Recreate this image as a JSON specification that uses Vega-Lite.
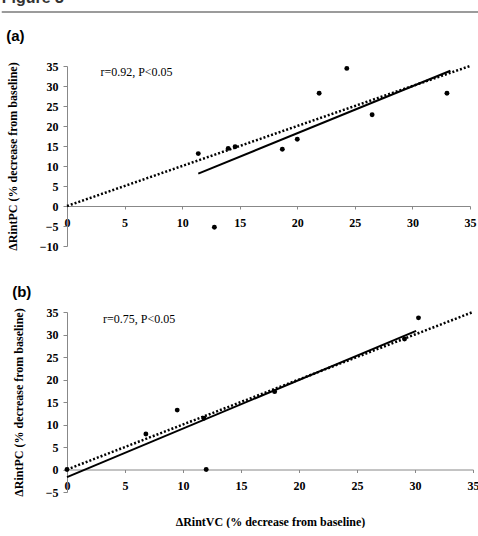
{
  "$schema": "https://vega.github.io/schema/vega-lite/v6.json",
  "background": "white",
  "padding": {"left": 0, "top": -10, "right": 0, "bottom": 0},
  "datasets": {
    "points": [
      {"panel": "a", "x": 11.4, "y": 13.1},
      {"panel": "a", "x": 12.8, "y": -5.3},
      {"panel": "a", "x": 14.0, "y": 14.4},
      {"panel": "a", "x": 14.6, "y": 14.8},
      {"panel": "a", "x": 18.7, "y": 14.2},
      {"panel": "a", "x": 20.0, "y": 16.7},
      {"panel": "a", "x": 21.9, "y": 28.2},
      {"panel": "a", "x": 24.3, "y": 34.4},
      {"panel": "a", "x": 26.5, "y": 22.8},
      {"panel": "a", "x": 33.0, "y": 28.2},
      {"panel": "b", "x": 0.0, "y": 0.0},
      {"panel": "b", "x": 6.8, "y": 7.9},
      {"panel": "b", "x": 9.5, "y": 13.2},
      {"panel": "b", "x": 11.8, "y": 11.4},
      {"panel": "b", "x": 12.0, "y": 0.0},
      {"panel": "b", "x": 17.9, "y": 17.3},
      {"panel": "b", "x": 29.1, "y": 29.0},
      {"panel": "b", "x": 30.3, "y": 33.7}
    ],
    "lines": [
      {"panel": "a", "kind": "identity", "x": 0, "y": 0},
      {"panel": "a", "kind": "identity", "x": 35, "y": 35},
      {"panel": "a", "kind": "fit", "x": 11.4, "y": 8.1},
      {"panel": "a", "kind": "fit", "x": 33.3, "y": 33.8},
      {"panel": "b", "kind": "identity", "x": 0, "y": 0},
      {"panel": "b", "kind": "identity", "x": 35, "y": 35},
      {"panel": "b", "kind": "fit", "x": 0, "y": -1.7},
      {"panel": "b", "kind": "fit", "x": 30.1, "y": 30.8}
    ],
    "notes": [
      {"panel": "a", "x": 2.9, "y": 33.5, "text": "r=0.92, P<0.05"},
      {"panel": "b", "x": 3.1, "y": 33.4, "text": "r=0.75, P<0.05"}
    ]
  },
  "config": {
    "view": {"stroke": null},
    "axis": {
      "grid": false,
      "labelFont": "Liberation Serif",
      "labelFontWeight": "bold",
      "labelFontSize": 12,
      "labelColor": "black",
      "labelFlush": false,
      "titleFont": "Liberation Serif",
      "titleFontWeight": "bold",
      "titleFontSize": 12,
      "titleColor": "black",
      "domainColor": "#888888",
      "tickColor": "#888888"
    },
    "title": {
      "font": "Liberation Sans",
      "fontWeight": "bold",
      "fontSize": 15,
      "color": "black",
      "anchor": "start",
      "frame": "bounds"
    }
  },
  "spacing": 16,
  "vconcat": [
    {
      "width": 413,
      "height": 9,
      "data": {"values": [{"label": "Figure 3", "start": -0.158, "end": 1}]},
      "encoding": {
        "x": {"field": "start", "type": "quantitative", "scale": {"domain": [0, 1], "nice": false, "zero": false}, "axis": null}
      },
      "layer": [
        {
          "mark": {"type": "text", "align": "left", "baseline": "alphabetic", "font": "Liberation Sans", "fontWeight": "bold", "fontSize": 16, "color": "#333333"},
          "encoding": {
            "text": {"field": "label"},
            "y": {"datum": 1, "scale": {"domain": [0, 1]}, "axis": null}
          }
        },
        {
          "mark": {"type": "rule", "color": "#7a7a7a", "strokeWidth": 1.5},
          "encoding": {
            "x2": {"field": "end"},
            "y": {"datum": 0}
          }
        }
      ]
    },
    {
      "spacing": 33,
      "vconcat": [
        {
          "width": 403,
          "height": 180,
          "title": {"text": "(a)", "offset": 16},
          "encoding": {
            "x": {
              "field": "x", "type": "quantitative",
              "scale": {"domain": [0, 35], "nice": false},
              "axis": {"title": null, "values": [0, 5, 10, 15, 20, 25, 30, 35], "offset": -40, "tickSize": 3, "labelPadding": 8}
            },
            "y": {
              "field": "y", "type": "quantitative",
              "scale": {"domain": [-10, 35], "nice": false},
              "axis": {"title": "ΔRintPC (% decrease from baseline)", "values": [-10, -5, 0, 5, 10, 15, 20, 25, 30, 35], "tickSize": 4, "labelPadding": 5, "titlePadding": 20}
            }
          },
          "layer": [
            {
              "data": {"name": "lines"},
              "transform": [{"filter": "datum.panel === 'a' && datum.kind === 'identity'"}],
              "mark": {"type": "line", "strokeDash": [2, 2], "strokeWidth": 2.5, "color": "black"}
            },
            {
              "data": {"name": "lines"},
              "transform": [{"filter": "datum.panel === 'a' && datum.kind === 'fit'"}],
              "mark": {"type": "line", "strokeWidth": 2, "color": "black"}
            },
            {
              "data": {"name": "points"},
              "transform": [{"filter": "datum.panel === 'a'"}],
              "mark": {"type": "circle", "size": 24, "color": "black", "opacity": 1}
            },
            {
              "data": {"name": "notes"},
              "transform": [{"filter": "datum.panel === 'a'"}],
              "mark": {"type": "text", "align": "left", "baseline": "middle", "font": "Liberation Serif", "fontSize": 12, "color": "black"},
              "encoding": {"text": {"field": "text"}}
            }
          ]
        },
        {
          "width": 406,
          "height": 180,
          "title": {"text": "(b)", "offset": 6},
          "encoding": {
            "x": {
              "field": "x", "type": "quantitative",
              "scale": {"domain": [0, 35], "nice": false},
              "axis": {"title": "ΔRintVC (% decrease from baseline)", "values": [0, 5, 10, 15, 20, 25, 30, 35], "offset": -22.5, "tickSize": 3, "labelPadding": 8, "titlePadding": 25}
            },
            "y": {
              "field": "y", "type": "quantitative",
              "scale": {"domain": [-5, 35], "nice": false},
              "axis": {"title": "ΔRintPC (% decrease from baseline)", "values": [-5, 0, 5, 10, 15, 20, 25, 30, 35], "tickSize": 4, "labelPadding": 5, "titlePadding": 20}
            }
          },
          "layer": [
            {
              "data": {"name": "lines"},
              "transform": [{"filter": "datum.panel === 'b' && datum.kind === 'identity'"}],
              "mark": {"type": "line", "strokeDash": [2, 2], "strokeWidth": 2.5, "color": "black"}
            },
            {
              "data": {"name": "lines"},
              "transform": [{"filter": "datum.panel === 'b' && datum.kind === 'fit'"}],
              "mark": {"type": "line", "strokeWidth": 2, "color": "black"}
            },
            {
              "data": {"name": "points"},
              "transform": [{"filter": "datum.panel === 'b'"}],
              "mark": {"type": "circle", "size": 24, "color": "black", "opacity": 1}
            },
            {
              "data": {"name": "notes"},
              "transform": [{"filter": "datum.panel === 'b'"}],
              "mark": {"type": "text", "align": "left", "baseline": "middle", "font": "Liberation Serif", "fontSize": 12, "color": "black"},
              "encoding": {"text": {"field": "text"}}
            }
          ]
        }
      ]
    }
  ]
}
